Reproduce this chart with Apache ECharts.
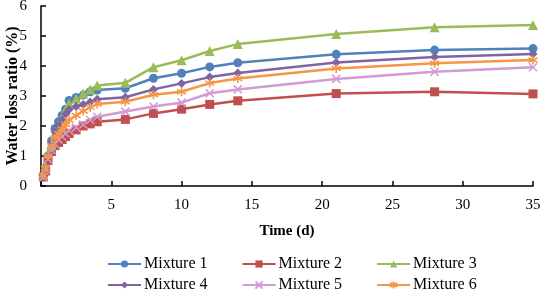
<!DOCTYPE html>
<html>
<head>
<meta charset="utf-8">
<script src="https://cdn.jsdelivr.net/npm/echarts@6/dist/echarts.min.js"></script>
<style>
  html, body { margin: 0; padding: 0; background: #fff; }
  #chart { width: 540px; height: 292px; }
</style>
</head>
<body>
<div id="chart"></div>
<script>
const days = [0.17, 0.33, 0.5, 0.75, 1, 1.25, 1.5, 1.75, 2, 2.5, 3, 3.5, 4, 6, 8, 10, 12, 14, 21, 28, 35];

const mixture1 = [0.35, 0.6, 1.0, 1.5, 1.92, 2.14, 2.35, 2.56, 2.85, 2.95, 3.03, 3.14, 3.2, 3.26, 3.59, 3.76, 3.97, 4.11, 4.39, 4.53, 4.58];
const mixture2 = [0.3, 0.5, 0.85, 1.15, 1.35, 1.45, 1.55, 1.65, 1.75, 1.87, 2.0, 2.07, 2.14, 2.22, 2.42, 2.56, 2.72, 2.84, 3.08, 3.14, 3.07];
const mixture3 = [0.4, 0.65, 1.1, 1.35, 1.75, 2.0, 2.3, 2.55, 2.75, 2.92, 3.08, 3.22, 3.35, 3.44, 3.96, 4.19, 4.5, 4.73, 5.07, 5.29, 5.37];
const mixture4 = [0.3, 0.55, 1.0, 1.4, 1.8, 2.0, 2.2, 2.4, 2.55, 2.65, 2.72, 2.8, 2.89, 2.96, 3.22, 3.42, 3.63, 3.77, 4.12, 4.3, 4.4];
const mixture5 = [0.3, 0.55, 0.9, 1.2, 1.4, 1.55, 1.65, 1.75, 1.85, 1.95, 2.05, 2.2, 2.31, 2.48, 2.65, 2.78, 3.09, 3.22, 3.57, 3.81, 3.96];
const mixture6 = [0.35, 0.6, 1.0, 1.35, 1.6, 1.75, 1.9, 2.05, 2.2, 2.35, 2.5, 2.62, 2.73, 2.81, 3.04, 3.14, 3.43, 3.58, 3.92, 4.09, 4.2];

const names = ["Mixture 1", "Mixture 2", "Mixture 3", "Mixture 4", "Mixture 5", "Mixture 6"];
const values = [mixture1, mixture2, mixture3, mixture4, mixture5, mixture6];
const colors = ["#4F81BD", "#C0504D", "#9BBB59", "#8064A2", "#D29BD6", "#F79646"];
const symbols = [
    "circle",
    "rect",
    "triangle",
    "diamond",
    "path://M0,0L10,10M10,0L0,10",
    "path://M5,0L5,10M0,2.5L10,7.5M0,7.5L10,2.5"
];
const symbolSizes = [9, 9, 10, 9, 8, 9];

const font = "'Liberation Serif', 'Times New Roman', serif";

const series = names.map((name, i) => ({
    name,
    type: "line",
    data: days.map((d, j) => [d, values[i][j]]),
    symbol: symbols[i],
    symbolSize: symbolSizes[i],
    showAllSymbol: true,
    lineStyle: { color: colors[i], width: 2.5 },
    itemStyle: {
        color: colors[i],
        borderColor: colors[i],
        borderWidth: i >= 4 ? 1.6 : 0
    },
    emphasis: { disabled: true },
    animation: false
}));

const legendBase = {
    left: 102,
    itemWidth: 33,
    itemHeight: 9,
    itemGap: 34,
    textStyle: { fontFamily: font, fontSize: 16, color: "#000", padding: [0, 0, 0, -2] }
};

const option = {
    backgroundColor: "#fff",
    animation: false,
    grid: { left: 41, right: 7, top: 6, bottom: 106, containLabel: false, outerBoundsMode: "none" },
    xAxis: {
        type: "value",
        min: 0,
        max: 35,
        interval: 5,
        name: "Time (d)",
        nameLocation: "middle",
        nameGap: 38,
        nameMoveOverlap: false,
        nameTextStyle: { fontFamily: font, fontSize: 15, fontWeight: "bold", color: "#000" },
        axisLine: { lineStyle: { color: "#000", width: 1.5 } },
        axisTick: { inside: true, length: 5, lineStyle: { color: "#000", width: 1.5 } },
        axisLabel: {
            fontFamily: font, fontSize: 15, color: "#000", margin: 12,
            formatter: v => (v === 0 ? "" : String(v))
        },
        splitLine: { show: false }
    },
    yAxis: {
        type: "value",
        min: 0,
        max: 6,
        interval: 1,
        name: "Water loss ratio (%)",
        nameLocation: "middle",
        nameGap: 20,
        nameMoveOverlap: false,
        nameTextStyle: { fontFamily: font, fontSize: 16, fontWeight: "bold", color: "#000" },
        axisLine: { show: true, lineStyle: { color: "#000", width: 1.5 } },
        axisTick: { show: true, inside: true, length: 5, lineStyle: { color: "#000", width: 1.5 } },
        axisLabel: { fontFamily: font, fontSize: 15, color: "#000", margin: 14 },
        splitLine: { show: false }
    },
    legend: [
        Object.assign({}, legendBase, { top: 251, data: names.slice(0, 3) }),
        Object.assign({}, legendBase, { top: 272, data: names.slice(3, 6) })
    ],
    series
};

const chart = echarts.init(document.getElementById("chart"), null, { renderer: "canvas" });
chart.setOption(option);
</script>
</body>
</html>
